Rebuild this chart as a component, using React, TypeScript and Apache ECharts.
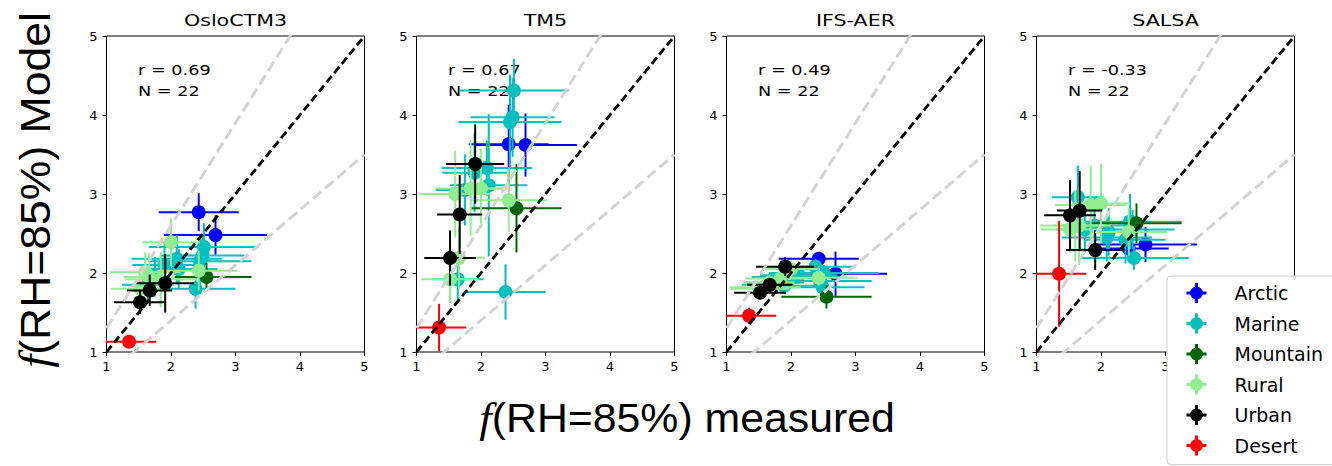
import React, { useEffect, useRef } from "react";
import * as echarts from "echarts";

// ---------- data ----------
const modelNames = ["OsloCTM3", "TM5", "IFS-AER", "SALSA"];
const rValues = ["0.69", "0.67", "0.49", "-0.33"];
const nValues = ["22", "22", "22", "22"];
const axisTicks = [1, 2, 3, 4, 5];
const refSlopes = [1, 1.3, 0.7];

const categories = ["Arctic", "Marine", "Mountain", "Rural", "Urban", "Desert"];
const categoryColors = ["#0000ff", "#00bfbf", "#006400", "#90ee90", "#000000", "#ff0000"];

// station -> category index
const stationCategory = [0, 0, 1, 1, 1, 1, 1, 1, 1, 1, 1, 2, 3, 3, 3, 3, 3, 3, 4, 4, 4, 5];
// measured f(RH=85%) and its uncertainty (shared by all panels)
const measured = [2.43, 2.69, 1.64, 1.75, 1.9, 2.09, 2.12, 2.38, 2.45, 2.49, 2.51, 2.55, 1.52, 1.6, 1.66, 1.84, 2.0, 2.43, 1.52, 1.67, 1.91, 1.35];
const measuredErr = [0.62, 0.8, 0.4, 0.45, 0.5, 0.7, 0.6, 0.62, 0.8, 0.65, 0.85, 0.7, 0.45, 0.55, 0.4, 0.55, 0.45, 0.6, 0.4, 0.35, 0.45, 0.42];

// modelled values per model
const osloModel = [2.77, 2.48, 1.85, 1.95, 2.1, 2.18, 2.05, 1.8, 2.15, 2.22, 2.33, 1.95, 1.8, 2.01, 1.95, 1.92, 2.39, 2.03, 1.63, 1.78, 1.87, 1.13];
const osloErr = [0.24, 0.25, 0.2, 0.25, 0.3, 0.3, 0.25, 0.25, 0.3, 0.25, 0.3, 0.18, 0.2, 0.25, 0.3, 0.35, 0.3, 0.25, 0.15, 0.2, 0.37, 0.05];
const tm5Model = [3.63, 3.62, 1.92, 3.05, 3.27, 3.33, 3.11, 1.76, 3.91, 3.97, 4.31, 2.82, 1.92, 3.0, 2.19, 3.07, 3.07, 2.92, 2.19, 2.74, 3.38, 1.31];
const tm5Err = [0.5, 0.4, 0.3, 0.45, 0.5, 0.35, 0.9, 0.35, 0.6, 0.5, 0.4, 0.56, 0.3, 0.55, 0.4, 0.6, 0.5, 0.4, 0.35, 0.5, 0.5, 0.3];
const ifsModel = [2.18, 1.99, 1.85, 1.88, 1.84, 1.95, 1.97, 2.08, 1.9, 1.82, 2.0, 1.7, 1.8, 1.82, 1.88, 1.93, 2.05, 1.94, 1.75, 1.85, 2.08, 1.46];
const ifsErr = [0.08, 0.28, 0.08, 0.08, 0.1, 0.08, 0.08, 0.1, 0.08, 0.1, 0.1, 0.15, 0.08, 0.08, 0.08, 0.1, 0.1, 0.1, 0.08, 0.08, 0.12, 0.1];
const salsaModel = [2.31, 2.36, 2.96, 2.55, 2.6, 2.45, 2.52, 2.42, 2.65, 2.55, 2.19, 2.63, 2.55, 2.6, 2.6, 2.86, 2.88, 2.52, 2.73, 2.79, 2.29, 1.99];
const salsaErr = [0.15, 0.22, 0.4, 0.3, 0.35, 0.3, 0.3, 0.3, 0.35, 0.25, 0.15, 0.25, 0.3, 0.45, 0.5, 0.5, 0.5, 0.3, 0.45, 0.5, 0.25, 0.67];

const modelValues = [osloModel, tm5Model, ifsModel, salsaModel];
const modelErrors = [osloErr, tm5Err, ifsErr, salsaErr];

// ---------- layout ----------
const gridLefts = [106.5, 416.5, 726.5, 1036.5];
const gridTop = 36;
const gridWidth = 258;
const gridHeight = 316;
// last panel: x tick labels hidden under the legend box
const lastPanelMaxLabel = 3;

const legendIcon =
  "path://M8.5,0h3v8.5h8.5v3h-8.5v8.5h-3v-8.5h-8.5v-3h8.5z M3.5,10a6.5,6.5 0 1,1 13,0a6.5,6.5 0 1,1 -13,0z";

const renderErrorBar = (params: any, api: any) => {
  const x = api.value(0);
  const y = api.value(1);
  const xe = api.value(2);
  const ye = api.value(3);
  const c = api.coord([x, y]);
  const l = api.coord([x - xe, y]);
  const r = api.coord([x + xe, y]);
  const b = api.coord([x, y - ye]);
  const t = api.coord([x, y + ye]);
  const color = api.visual("color");
  return {
    type: "group",
    children: [
      { type: "line", shape: { x1: l[0], y1: l[1], x2: r[0], y2: r[1] }, style: { stroke: color, lineWidth: 2 } },
      { type: "line", shape: { x1: t[0], y1: t[1], x2: b[0], y2: b[1] }, style: { stroke: color, lineWidth: 2 } },
      { type: "circle", shape: { cx: c[0], cy: c[1], r: 7 }, style: { fill: color } },
    ],
  };
};

function buildOption() {
  const lo = axisTicks[0];
  const hi = axisTicks[axisTicks.length - 1];
  const grids: any[] = [];
  const xAxes: any[] = [];
  const yAxes: any[] = [];
  const series: any[] = [];
  const graphics: any[] = [];

  modelNames.forEach((name, p) => {
    grids.push({
      left: gridLefts[p],
      top: gridTop,
      width: gridWidth,
      height: gridHeight,
      show: true,
      borderColor: "#000",
      borderWidth: 1,
      backgroundColor: "#fff",
    });
    const axisCommon = {
      type: "value",
      gridIndex: p,
      min: lo,
      max: hi,
      interval: 1,
      axisLine: { show: false },
      splitLine: { show: false },
      axisTick: { show: true, inside: false, length: 4, lineStyle: { color: "#000", width: 1 } },
    };
    const isLast = p === modelNames.length - 1;
    xAxes.push({
      ...axisCommon,
      axisLabel: {
        color: "#000",
        fontSize: 13,
        fontFamily: "DejaVu Sans",
        margin: 8,
        formatter: (v: number) => (isLast && v > lastPanelMaxLabel ? "" : String(v)),
      },
    });
    yAxes.push({
      ...axisCommon,
      axisLabel: { color: "#000", fontSize: 13, fontFamily: "DejaVu Sans", margin: 9 },
    });

    const ys = modelValues[p];
    const ye = modelErrors[p];
    categories.forEach((cat, ci) => {
      const data: number[][] = [];
      for (let i = 0; i < measured.length; i++) {
        if (stationCategory[i] === ci) data.push([measured[i], ys[i], measuredErr[i], ye[i]]);
      }
      series.push({
        type: "custom",
        name: cat,
        xAxisIndex: p,
        yAxisIndex: p,
        data,
        renderItem: renderErrorBar,
        itemStyle: { color: categoryColors[ci] },
        clip: true,
        z: 2,
      });
    });

    refSlopes.forEach((s, k) => {
      series.push({
        type: "line",
        xAxisIndex: p,
        yAxisIndex: p,
        data: [
          [lo, lo * s],
          [hi, hi * s],
        ],
        symbol: "none",
        clip: true,
        silent: true,
        z: k === 0 ? 4 : 3,
        lineStyle:
          k === 0
            ? { color: "#000", width: 2.8, type: [8, 4] }
            : { color: "#d3d3d3", width: 3, type: [11, 5] },
      });
    });

    graphics.push({
      type: "text",
      x: gridLefts[p] + gridWidth / 2,
      y: 20,
      scaleX: 1.25,
      style: {
        text: name,
        fontSize: 16.5,
        fontFamily: "DejaVu Sans",
        fill: "#000",
        align: "center",
        verticalAlign: "middle",
      },
    });
    graphics.push({
      type: "text",
      x: gridLefts[p] + 31.5,
      y: 70,
      scaleX: 1.22,
      style: {
        text: "r = " + rValues[p],
        fontSize: 14.5,
        fontFamily: "DejaVu Sans",
        fill: "#000",
        align: "left",
        verticalAlign: "middle",
      },
    });
    graphics.push({
      type: "text",
      x: gridLefts[p] + 31.5,
      y: 91,
      scaleX: 1.22,
      style: {
        text: "N = " + nValues[p],
        fontSize: 14.5,
        fontFamily: "DejaVu Sans",
        fill: "#000",
        align: "left",
        verticalAlign: "middle",
      },
    });
  });

  const richLabel = (size: number) => ({
    i: { fontStyle: "italic", fontFamily: "Liberation Serif", fontSize: size + 2, fill: "#000" },
    n: { fontFamily: "Liberation Sans", fontSize: size, fill: "#000" },
  });

  graphics.push({
    type: "text",
    x: 687,
    y: 418,
    scaleX: 1.07,
    style: {
      text: "{i|f}{n|(RH=85%) measured}",
      rich: richLabel(40),
      align: "center",
      verticalAlign: "middle",
    },
  });
  graphics.push({
    type: "text",
    x: 35,
    y: 190,
    rotation: Math.PI / 2,
    scaleX: 1.06,
    style: {
      text: "{i|f}{n|(RH=85%) Model}",
      rich: richLabel(42),
      align: "center",
      verticalAlign: "middle",
    },
  });

  return {
    animation: false,
    backgroundColor: "#fff",
    grid: grids,
    xAxis: xAxes,
    yAxis: yAxes,
    series,
    graphic: graphics,
    legend: {
      orient: "vertical",
      left: 1167,
      top: 276,
      itemWidth: 20,
      itemHeight: 20,
      itemGap: 10.5,
      padding: [7, 30, 9, 19.5],
      backgroundColor: "#fff",
      borderColor: "#cccccc",
      borderWidth: 1,
      borderRadius: 4,
      z: 10,
      textStyle: { fontSize: 19, fontFamily: "DejaVu Sans", color: "#000", padding: [0, 0, 0, 23] },
      data: categories.map((c) => ({ name: c, icon: legendIcon })),
    },
  };
}

export default function App() {
  const ref = useRef<HTMLDivElement>(null);
  useEffect(() => {
    if (!ref.current) return;
    const chart = echarts.init(ref.current, undefined, { renderer: "svg" });
    chart.setOption(buildOption() as any);
    return () => chart.dispose();
  }, []);
  return (
    <div
      ref={ref}
      style={{ position: "fixed", left: 0, top: 0, width: 1332, height: 466, background: "#fff" }}
    />
  );
}
